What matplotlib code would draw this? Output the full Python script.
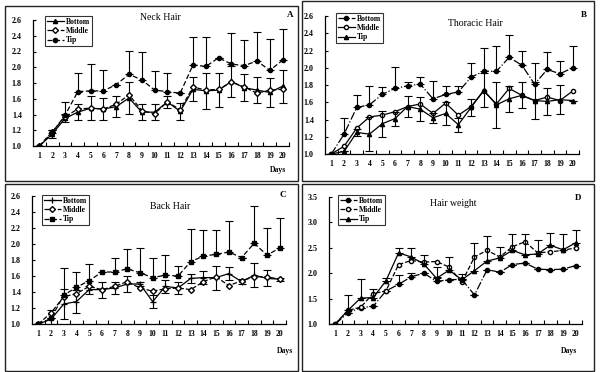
import matplotlib
matplotlib.use("Agg")
import matplotlib.pyplot as plt
from matplotlib.patches import Rectangle
from matplotlib.ticker import FixedLocator, FormatStrFormatter

plt.rcParams['font.family'] = ['Liberation Serif', 'DejaVu Serif']
plt.rcParams['font.weight'] = 'bold'

days = list(range(1, 21))

# Panel A - Neck Hair
neck_bottom = [1.00,1.15,1.35,1.43,1.48,1.47,1.50,1.61,1.43,1.43,1.56,1.44,1.72,1.70,1.71,1.82,1.74,1.71,1.68,1.76]
neck_bottom_err = [0,0.05,0.05,0.10,0.15,0.14,0.13,0.20,0.10,0.10,0.08,0.11,0.15,0.23,0.22,0.20,0.17,0.16,0.18,0.21]
neck_middle = [1.00,1.18,1.37,1.47,1.48,1.47,1.53,1.65,1.45,1.41,1.56,1.46,1.75,1.71,1.72,1.81,1.75,1.67,1.71,1.72]
neck_tip = [1.00,1.17,1.39,1.69,1.70,1.70,1.78,1.91,1.84,1.71,1.69,1.67,2.03,2.01,2.12,2.04,2.02,2.08,1.96,2.09]
neck_tip_err = [0,0.03,0.17,0.24,0.34,0.26,0,0.30,0.36,0.24,0.24,0,0.35,0.37,0,0.39,0.33,0.37,0.40,0.40]

# Panel B - Thoracic Hair
th_bottom = [1.00,1.23,1.54,1.57,1.69,1.76,1.79,1.81,1.64,1.69,1.72,1.89,1.96,1.96,2.12,2.03,1.81,1.98,1.93,2.00]
th_bottom_err = [0,0.19,0.14,0.22,0.09,0.25,0.05,0.08,0.21,0.10,0.07,0.17,0.27,0.29,0.26,0.17,0.25,0.20,0.15,0.25]
th_middle = [1.00,1.09,1.30,1.43,1.45,1.49,1.55,1.58,1.47,1.59,1.45,1.55,1.73,1.58,1.76,1.68,1.62,1.66,1.62,1.73]
th_tip = [1.00,1.03,1.25,1.23,1.35,1.41,1.55,1.52,1.42,1.47,1.34,1.54,1.74,1.57,1.64,1.68,1.62,1.61,1.63,1.62]
th_tip_err = [0,0,0.04,0.20,0.15,0.08,0.12,0.14,0.06,0.13,0.08,0.10,0.20,0.27,0.15,0.15,0.21,0.16,0.17,0]

# Panel C - Back Hair
back_bottom = [1.00,1.06,1.25,1.28,1.43,1.43,1.45,1.50,1.50,1.28,1.47,1.45,1.57,1.58,1.58,1.63,1.53,1.61,1.57,1.56]
back_bottom_err = [0,0.12,0.19,0.14,0.05,0.10,0.07,0.10,0.03,0.08,0.08,0.08,0.06,0.08,0.15,0.08,0.03,0.15,0.10,0.02]
back_middle = [1.00,1.14,1.34,1.38,1.47,1.43,1.47,1.53,1.45,1.41,1.44,1.45,1.43,1.53,1.59,1.48,1.54,1.59,1.59,1.56]
back_tip = [1.00,1.07,1.36,1.46,1.54,1.65,1.65,1.69,1.64,1.58,1.61,1.60,1.78,1.85,1.87,1.90,1.83,2.01,1.86,1.95]
back_tip_err = [0,0,0.34,0.19,0.21,0,0.17,0.25,0.31,0.25,0.25,0.13,0.41,0.33,0.31,0.39,0,0.47,0.34,0.37]

# Panel D - Hair weight
w_bottom = [1.00,1.22,1.32,1.35,1.65,1.78,1.93,2.00,1.84,1.87,1.88,1.57,2.07,2.02,2.17,2.20,2.08,2.07,2.08,2.15]
w_bottom_err = [0,0,0,0,0,0.19,0.08,0,0.08,0,0,0,0,0,0,0,0,0,0,0]
w_middle = [1.00,1.27,1.33,1.60,1.65,2.17,2.25,2.22,2.23,2.12,1.82,2.32,2.45,2.32,2.52,2.62,2.40,2.42,2.45,2.50]
w_tip = [1.00,1.27,1.51,1.52,1.85,2.40,2.32,2.18,1.90,2.06,1.87,2.05,2.24,2.30,2.45,2.36,2.38,2.55,2.46,2.60]
w_tip_err = [0,0.30,0.37,0.17,0.05,0.10,0.18,0.18,0.23,0.25,0.12,0.55,0.49,0.22,0.32,0.41,0.27,0.25,0.32,0.25]

series_labels = ['Bottom', 'Middle', 'Tip']

W, H = 600, 372
fig = plt.figure(figsize=(6.0, 3.72), dpi=100)

def fx(x): return x / W
def fy(y): return 1 - y / H

# panel borders
for (x0, y0, x1, y1) in [(5, 6, 298, 181), (302, 1, 594, 181), (5, 184, 298, 371), (302, 184, 594, 371)]:
    fig.patches.append(Rectangle((fx(x0), fy(y1)), fx(x1 - x0), (y1 - y0) / H,
                                 transform=fig.transFigure, fill=False, ec='#222222', lw=1.0))

def make_axes(x0, x1, ytop, ybot, ylim, yticks):
    ax = fig.add_axes([fx(x0), fy(ybot), fx(x1 - x0), (ybot - ytop) / H])
    ax.set_xlim(0.5, 20.5)
    ax.set_ylim(*ylim)
    ax.spines['top'].set_visible(False)
    ax.spines['right'].set_visible(False)
    for s in ['left', 'bottom']:
        ax.spines[s].set_linewidth(0.9)
    ax.set_xticks(days)
    ax.set_xticklabels([str(d) for d in days])
    ax.xaxis.set_minor_locator(FixedLocator([d + 0.5 for d in days]))
    ax.tick_params(axis='x', which='major', length=0, labelsize=5.5, pad=4)
    ax.tick_params(axis='x', which='minor', direction='in', length=3, width=0.8)
    ax.set_yticks(yticks)
    ax.yaxis.set_major_formatter(FormatStrFormatter('%.1f'))
    ax.tick_params(axis='y', direction='in', length=2.5, width=0.8, labelsize=5.8, pad=8)
    ax.patch.set_alpha(0)
    return ax

def series(ax, y, err, up_only, **kw):
    if err is not None:
        lower = [0] * len(err) if up_only else err
        ax.errorbar(days, y, yerr=[lower, err], fmt='none', ecolor='black',
                    elinewidth=0.8, capsize=3, capthick=0.8)
    return ax.plot(days, y, color='black', lw=0.9, **kw)[0]

def legend(handles, x0, y0):
    leg = fig.legend(handles, series_labels, loc='upper left', bbox_to_anchor=(fx(x0), fy(y0)),
                     bbox_transform=fig.transFigure, frameon=True, fancybox=False,
                     fontsize=5.5, handlelength=2.2, handletextpad=0.3, borderpad=0.25,
                     labelspacing=0.15, borderaxespad=0)
    leg.get_frame().set_edgecolor('black')
    leg.get_frame().set_linewidth(0.8)

ytA = [1.0, 1.2, 1.4, 1.6, 1.8, 2.0, 2.2, 2.4, 2.6]

# A
ax = make_axes(33, 289, 20, 146, (1.0, 2.6), ytA)
hb = series(ax, neck_bottom, neck_bottom_err, False, ls='-', marker='^', ms=3, mfc='black')
hm = series(ax, neck_middle, None, False, ls='--', marker='D', ms=3, mfc='white')
ht = series(ax, neck_tip, neck_tip_err, True, ls=(0, (4, 2)), marker='o', ms=3, mfc='black')
legend([hb, hm, ht], 45, 16)
fig.text(fx(160), fy(17), 'Neck Hair', fontsize=7, ha='center', va='center', fontweight='normal')
fig.text(fx(290), fy(15), 'A', fontsize=6.5, ha='center', va='center')
fig.text(fx(278), fy(170), 'Days', fontsize=5.5, ha='center', va='center')

# B
ax = make_axes(325, 579, 16, 154, (1.0, 2.6), ytA)
hb = series(ax, th_bottom, th_bottom_err, True, ls='-.', marker='o', ms=3, mfc='black')
hm = series(ax, th_middle, None, False, ls='-', marker='o', ms=3, mfc='white')
ht = series(ax, th_tip, th_tip_err, False, ls='-', marker='^', ms=3, mfc='black')
legend([hb, hm, ht], 336, 13)
fig.text(fx(475), fy(24), 'Thoracic Hair', fontsize=7, ha='center', va='center', fontweight='normal')
fig.text(fx(584), fy(15), 'B', fontsize=6.5, ha='center', va='center')

# C
ax = make_axes(32, 286, 196, 324, (1.0, 2.6), ytA)
hb = series(ax, back_bottom, back_bottom_err, False, ls='-', marker='+', ms=4, mew=0.9)
hm = series(ax, back_middle, None, False, ls='--', marker='D', ms=3, mfc='white')
ht = series(ax, back_tip, back_tip_err, True, ls=(0, (4, 2)), marker='s', ms=2.5, mfc='black')
legend([hb, hm, ht], 42, 195)
fig.text(fx(170), fy(207), 'Back Hair', fontsize=7, ha='center', va='center', fontweight='normal')
fig.text(fx(283), fy(195), 'C', fontsize=6.5, ha='center', va='center')
fig.text(fx(285), fy(351), 'Days', fontsize=5.5, ha='center', va='center')

# D
ax = make_axes(329, 582, 197, 324, (1.0, 3.5), [1.0, 1.5, 2.0, 2.5, 3.0, 3.5])
hb = series(ax, w_bottom, w_bottom_err, True, ls='-.', marker='o', ms=3, mfc='black')
hm = series(ax, w_middle, None, False, ls='--', marker='o', ms=3, mfc='white')
ht = series(ax, w_tip, w_tip_err, True, ls='-', marker='^', ms=3, mfc='black')
legend([hb, hm, ht], 338, 195)
fig.text(fx(453), fy(204), 'Hair weight', fontsize=7, ha='center', va='center', fontweight='normal')
fig.text(fx(578), fy(198), 'D', fontsize=6.5, ha='center', va='center')
fig.text(fx(569), fy(351), 'Days', fontsize=5.5, ha='center', va='center')

fig.savefig('out.png', dpi=100)
